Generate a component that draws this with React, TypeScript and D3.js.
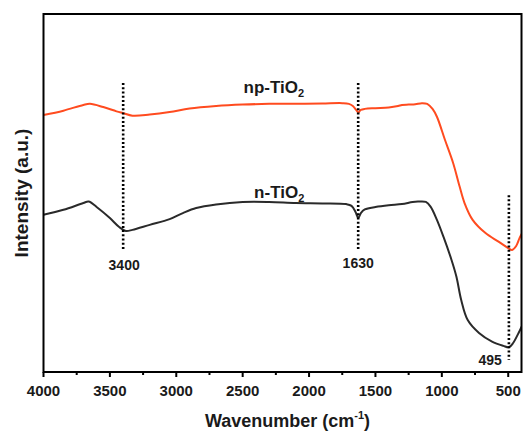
import React from "react";
import * as d3 from "d3";

// FTIR spectra of the two TiO2 samples (wavenumber in cm^-1, intensity in a.u.)
const npWavenumber = [4000, 3850, 3700, 3650, 3550, 3450, 3400, 3330, 3200, 3050, 2900, 2700, 2500, 2300, 2100, 1900, 1750, 1700, 1670, 1645, 1630, 1610, 1580, 1500, 1400, 1330, 1300, 1250, 1200, 1150, 1110, 1070, 1037, 976, 915, 866, 829, 768, 671, 573, 500, 471, 440, 415, 400];
const npIntensity = [71.8, 73.0, 74.6, 74.9, 74.0, 72.8, 72.3, 71.6, 71.9, 72.6, 73.6, 74.3, 74.7, 74.9, 74.9, 75.0, 75.1, 74.9, 74.3, 73.2, 72.5, 73.2, 73.5, 73.7, 73.9, 74.3, 74.6, 74.7, 74.8, 75.1, 74.9, 73.5, 71.3, 64.8, 58.4, 51.8, 47.2, 42.5, 38.8, 36.4, 34.6, 34.1, 35.2, 37.4, 38.5];

const nWavenumber = [4000, 3850, 3700, 3660, 3600, 3500, 3430, 3380, 3330, 3200, 3050, 2950, 2850, 2700, 2500, 2300, 2100, 1900, 1720, 1680, 1650, 1630, 1610, 1580, 1500, 1400, 1300, 1220, 1180, 1120, 1085, 1037, 988, 927, 890, 854, 805, 720, 622, 537, 495, 463, 422, 400];
const nIntensity = [43.9, 45.3, 47.2, 47.6, 46.1, 43.0, 40.5, 39.4, 39.7, 41.1, 42.7, 44.4, 45.8, 46.8, 47.5, 47.5, 47.2, 47.1, 46.9, 46.4, 44.7, 43.0, 44.4, 45.4, 46.1, 46.6, 46.9, 47.5, 47.6, 47.5, 46.2, 42.5, 37.8, 31.3, 26.6, 20.1, 14.5, 10.9, 8.5, 7.3, 6.9, 8.1, 10.9, 12.6];

// Band positions marked with dotted guides (from / to in intensity units)
const bandPositions = [3400, 1630, 495];
const bandFrom = [34.0, 34.0, 3.4];
const bandTo = [80.7, 80.7, 49.4];

// Series names and where they are written (wavenumber, intensity)
const seriesNames = ["np", "n"];
const seriesLabelWn = [2265, 2225];
const seriesLabelY = [78.0, 48.6];

const xTicksMajor = [4000, 3500, 3000, 2500, 2000, 1500, 1000, 500];
const xTicksMinor = [3750, 3250, 2750, 2250, 1750, 1250, 750];

const W = 531;
const H = 437;
const left = 43.5;
const right = 521.5;
const top = 14;
const bottom = 372;

const FONT = "'Liberation Sans', Arial, Helvetica, sans-serif";
const ORANGE = "#ff4b1f";
const DARK = "#2a2a2a";

export default function App() {
  const x = d3.scaleLinear().domain([4000, 400]).range([left, right]);
  const y = d3.scaleLinear().domain([0, 100]).range([bottom, top]);

  const line = d3
    .line<[number, number]>()
    .x((d) => x(d[0]))
    .y((d) => y(d[1]))
    .curve(d3.curveCatmullRom.alpha(0.5));

  const npData = npWavenumber.map((w, i) => [w, npIntensity[i]] as [number, number]);
  const nData = nWavenumber.map((w, i) => [w, nIntensity[i]] as [number, number]);

  return (
    <div style={{ position: "absolute", left: 0, top: 0 }}>
      <svg width={W} height={H} style={{ display: "block", background: "#fff" }}>
        <defs>
          <clipPath id="plotArea">
            <rect x={left} y={top} width={right - left} height={bottom - top} />
          </clipPath>
        </defs>

        {/* spectra */}
        <g clipPath="url(#plotArea)" fill="none" strokeLinejoin="round" strokeLinecap="round">
          <path d={line(npData) ?? ""} stroke={ORANGE} strokeWidth={2} />
          <path d={line(nData) ?? ""} stroke={DARK} strokeWidth={2} />
        </g>

        {/* dotted band guides */}
        {bandPositions.map((b, i) => (
          <line
            key={b}
            x1={x(b)}
            x2={x(b)}
            y1={y(bandTo[i])}
            y2={y(bandFrom[i])}
            stroke="#000"
            strokeWidth={2.6}
            strokeDasharray="2 2.2"
          />
        ))}

        {/* band labels */}
        <g fontFamily={FONT} fontWeight="bold" fontSize={14} fill="#1a1a1a">
          <text x={x(bandPositions[0]) + 1} y={y(bandFrom[0]) + 20} textAnchor="middle">
            {bandPositions[0]}
          </text>
          <text x={x(bandPositions[1])} y={y(bandFrom[1]) + 18} textAnchor="middle">
            {bandPositions[1]}
          </text>
          <text x={x(bandPositions[2]) - 7} y={y(bandFrom[2]) + 5} textAnchor="end">
            {bandPositions[2]}
          </text>
        </g>

        {/* series labels */}
        <g fontFamily={FONT} fontWeight="bold" fontSize={17} fill="#1a1a1a" textAnchor="middle">
          {seriesNames.map((name, i) => (
            <text key={name} x={x(seriesLabelWn[i])} y={y(seriesLabelY[i])}>
              {name}-TiO
              <tspan fontSize={11} dy={4}>2</tspan>
            </text>
          ))}
        </g>

        {/* frame */}
        <rect
          x={left}
          y={top}
          width={right - left}
          height={bottom - top}
          fill="none"
          stroke="#000"
          strokeWidth={2}
        />

        {/* x ticks */}
        {xTicksMajor.map((t) => (
          <line key={"M" + t} x1={x(t)} x2={x(t)} y1={bottom} y2={bottom + 5} stroke="#000" strokeWidth={2} />
        ))}
        {xTicksMinor.map((t) => (
          <line key={"m" + t} x1={x(t)} x2={x(t)} y1={bottom} y2={bottom + 3} stroke="#000" strokeWidth={2} />
        ))}
        <g fontFamily={FONT} fontWeight="bold" fontSize={15} fill="#1a1a1a" textAnchor="middle">
          {xTicksMajor.map((t) => (
            <text key={"l" + t} x={x(t)} y={bottom + 24}>
              {t}
            </text>
          ))}
        </g>

        {/* axis titles */}
        <text
          x={(left + right) / 2 + 5}
          y={427}
          fontFamily={FONT}
          fontWeight="bold"
          fontSize={18}
          fill="#1a1a1a"
          textAnchor="middle"
        >
          Wavenumber (cm
          <tspan fontSize={11} dy={-8}>-1</tspan>
          <tspan dy={8}>)</tspan>
        </text>
        <text
          transform={`translate(28, ${(top + bottom) / 2}) rotate(-90)`}
          fontFamily={FONT}
          fontWeight="bold"
          fontSize={19}
          fill="#1a1a1a"
          textAnchor="middle"
        >
          Intensity (a.u.)
        </text>
      </svg>
    </div>
  );
}
